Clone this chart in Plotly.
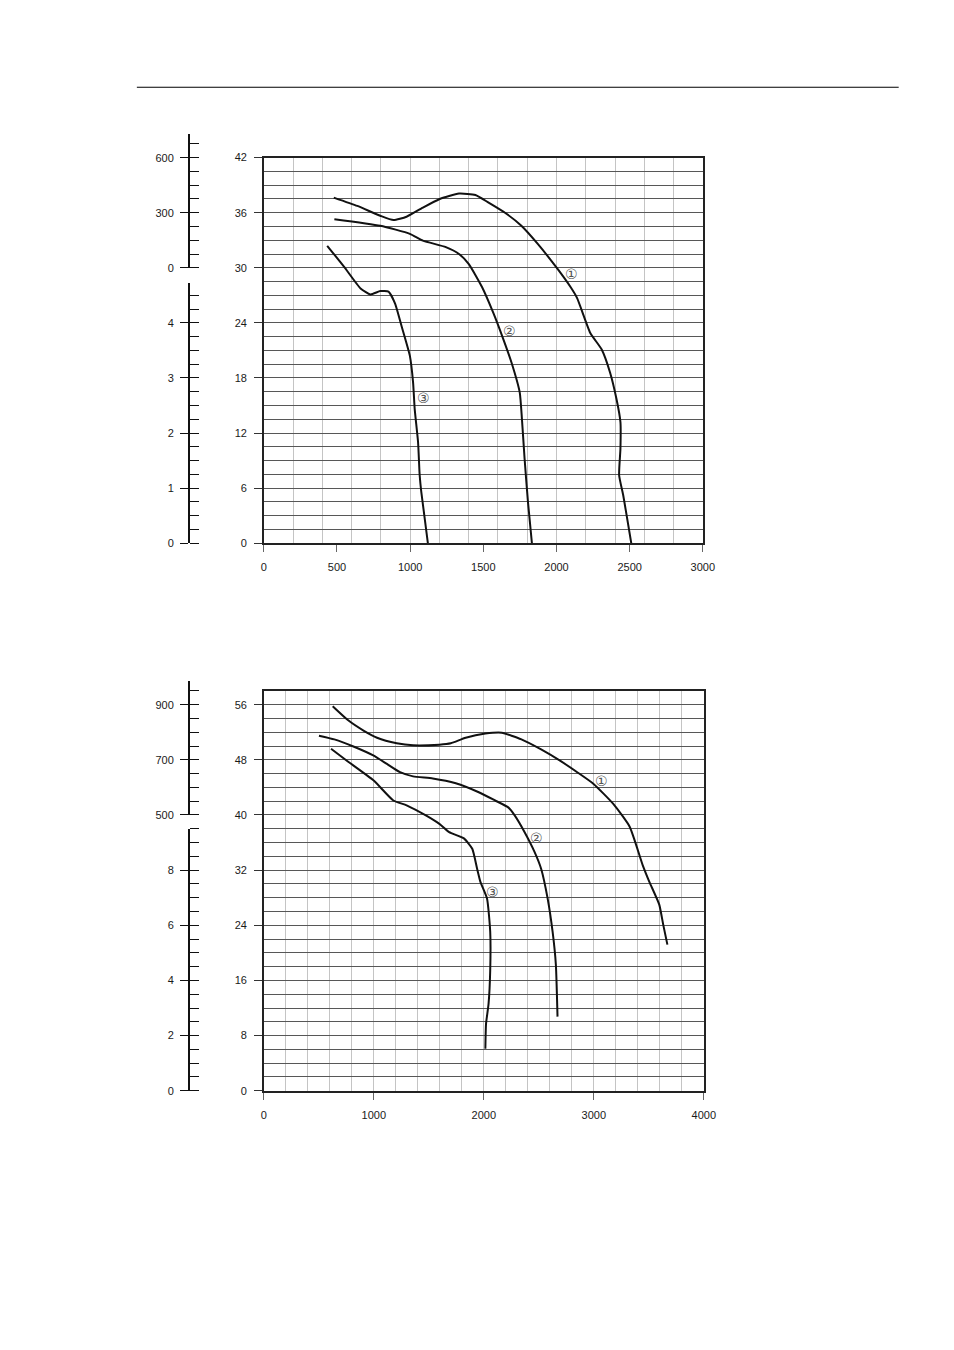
import plotly.graph_objects as go

W, H = 954, 1350

# ---------------- data: upper chart (A) ----------------
a_xticks = [0, 500, 1000, 1500, 2000, 2500, 3000]
a_yticks = [0, 6, 12, 18, 24, 30, 36, 42]
a_aux_top_ticks = [0, 300, 600]
a_aux_bot_ticks = [0, 1, 2, 3, 4]

a1_x = [478, 639, 796, 886, 975, 1087, 1199, 1334, 1446, 1536, 1648, 1760, 1872, 2006, 2096, 2141, 2231, 2309, 2366, 2410, 2437, 2437, 2428, 2455, 2511]
a1_y = [37.65, 36.74, 35.67, 35.2, 35.56, 36.56, 37.47, 38.08, 37.93, 37.1, 36.0, 34.58, 32.6, 29.9, 27.9, 26.7, 22.9, 21.1, 18.6, 15.7, 13.2, 10.3, 7.4, 5.3, 0.0]

a2_x = [482, 796, 998, 1087, 1244, 1334, 1401, 1491, 1569, 1637, 1693, 1749, 1764, 1782, 1805, 1832]
a2_y = [35.3, 34.58, 33.7, 32.96, 32.25, 31.5, 30.4, 27.9, 25.05, 22.2, 19.65, 16.4, 13.5, 9.2, 4.5, 0.0]

a3_x = [433, 549, 661, 728, 796, 852, 897, 942, 998, 1020, 1031, 1054, 1065, 1076, 1121]
a3_y = [32.4, 30.1, 27.75, 27.1, 27.46, 27.4, 26.1, 23.6, 20.4, 17.5, 14.6, 11.0, 7.4, 5.6, 0.0]

a_labels = ["①", "②", "③"]
a_label_x = [2100, 1681, 1090]
a_label_y = [29.3, 23.1, 15.8]

# ---------------- data: lower chart (B) ----------------
b_xticks = [0, 1000, 2000, 3000, 4000]
b_yticks = [0, 8, 16, 24, 32, 40, 48, 56]
b_aux_top_ticks = [500, 700, 900]
b_aux_bot_ticks = [0, 2, 4, 6, 8]

b1_x = [626, 761, 910, 1029, 1208, 1357, 1596, 1700, 1835, 2014, 2163, 2342, 2521, 2700, 2849, 2998, 3177, 3326, 3445, 3505, 3595, 3631, 3669]
b1_y = [55.76, 53.8, 52.2, 51.2, 50.4, 50.1, 50.2, 50.4, 51.2, 51.8, 51.93, 50.96, 49.5, 47.8, 46.2, 44.5, 41.6, 38.3, 32.7, 30.3, 27.0, 24.1, 21.2]

b2_x = [501, 641, 820, 999, 1119, 1238, 1357, 1536, 1745, 1954, 2103, 2222, 2282, 2371, 2461, 2521, 2580, 2625, 2655, 2670]
b2_y = [51.5, 50.96, 49.9, 48.6, 47.4, 46.2, 45.6, 45.3, 44.6, 43.3, 42.1, 41.1, 39.9, 37.5, 34.65, 32.2, 27.9, 23.1, 18.3, 10.75]

b3_x = [611, 761, 999, 1178, 1298, 1477, 1596, 1685, 1819, 1895, 1939, 1969, 2029, 2058, 2058, 2043, 2020, 2014]
b3_y = [49.6, 47.8, 45.0, 42.1, 41.4, 39.9, 38.7, 37.5, 36.6, 35.1, 32.2, 30.3, 27.9, 23.1, 17.4, 12.6, 9.7, 6.1]

b_labels = ["①", "②", "③"]
b_label_x = [3067, 2481, 2079]
b_label_y = [44.9, 36.7, 28.9]

# ---------------- layout geometry (pixels) ----------------
A_L, A_R, A_B, A_T = 265, 711, 542, 153
B_L, B_R, B_B, B_T = 265, 712, 1094.5, 691
A_YMAX, B_YMAX = 42, 58
AUX_X0, AUX_X1 = 190, 200


def px_x(p):
    return p / W


def px_y(p):
    return 1 - p / H


def a_main_to_paper(m):
    return px_y(A_B) + m / A_YMAX * (px_y(A_T) - px_y(A_B))


def b_main_to_paper(m):
    return px_y(B_B) + m / B_YMAX * (px_y(B_T) - px_y(B_B))


FONT = dict(family="Liberation Sans, Arial, sans-serif", size=11, color="#1a1a1a")
LINE = dict(color="#111", width=2)
HGRID = "#575757"
VGRID = "#c4c4c4"
FRAME = "#222"

fig = go.Figure()

for xs, ys in [(a1_x, a1_y), (a2_x, a2_y), (a3_x, a3_y)]:
    fig.add_trace(go.Scatter(x=xs, y=ys, mode="lines", line=dict(shape="spline", smoothing=0.5, **LINE),
                             xaxis="x", yaxis="y", hoverinfo="skip"))
for xs, ys in [(b1_x, b1_y), (b2_x, b2_y), (b3_x, b3_y)]:
    fig.add_trace(go.Scatter(x=xs, y=ys, mode="lines", line=dict(shape="spline", smoothing=0.5, **LINE),
                             xaxis="x2", yaxis="y2", hoverinfo="skip"))

# empty traces so auxiliary scale subplots exist
for ya in ["y3", "y4"]:
    fig.add_trace(go.Scatter(x=[], y=[], xaxis="x3", yaxis=ya, hoverinfo="skip"))
for ya in ["y5", "y6"]:
    fig.add_trace(go.Scatter(x=[], y=[], xaxis="x4", yaxis=ya, hoverinfo="skip"))


def main_x(domain, rng, ticks, minor_dtick, anchor):
    return dict(domain=domain, range=rng, anchor=anchor, tickmode="array", tickvals=ticks,
                ticks="outside", ticklen=7, tickcolor="#666", tickwidth=1,
                ticklabelstandoff=6,
                showgrid=False, zeroline=False, showline=True, mirror=True,
                linecolor=FRAME, linewidth=1.5, tickfont=FONT,
                minor=dict(dtick=minor_dtick, tick0=0, showgrid=True, gridcolor=VGRID, gridwidth=1,
                           ticks="inside", ticklen=0, tickcolor="rgba(0,0,0,0)"))


def main_y(domain, rng, ticks, minor_dtick, anchor):
    return dict(domain=domain, range=rng, anchor=anchor, tickmode="array", tickvals=ticks,
                ticks="outside", ticklen=8, tickcolor="#333", tickwidth=1,
                ticklabelstandoff=5,
                showgrid=True, gridcolor=HGRID, gridwidth=1, zeroline=False,
                showline=True, mirror=True, linecolor=FRAME, linewidth=1.5, tickfont=FONT,
                minor=dict(dtick=minor_dtick, tick0=0, showgrid=True, gridcolor=HGRID, gridwidth=1, ticks=""))


def aux_y(domain, rng, ticks, minor_dtick, tick0, anchor):
    return dict(domain=domain, range=rng, anchor=anchor, tickmode="array", tickvals=ticks,
                ticks="outside", ticklen=8, tickcolor="#111", tickwidth=1,
                ticklabelstandoff=4,
                showgrid=False, zeroline=False, showline=True, linecolor="#111", linewidth=2,
                tickfont=FONT,
                minor=dict(dtick=minor_dtick, tick0=tick0, ticks="inside", ticklen=9,
                           tickcolor="#111", tickwidth=1, showgrid=False))


a_top_rng = [0, 730]
a_bot_rng = [0, 4.73]
b_top_rng = [500, 985]
b_bot_rng = [0, 9.5]

fig.update_layout(
    width=W, height=H, margin=dict(l=0, r=0, t=0, b=0),
    paper_bgcolor="white", plot_bgcolor="white", showlegend=False,
    xaxis=main_x([px_x(A_L), px_x(A_R)], [0, 3000], a_xticks, 200, "y"),
    yaxis=main_y([px_y(A_B), px_y(A_T)], [0, A_YMAX], a_yticks, 1.5, "x"),
    xaxis2=main_x([px_x(B_L), px_x(B_R)], [0, 4000], b_xticks, 200, "y2"),
    yaxis2=main_y([px_y(B_B), px_y(B_T)], [0, B_YMAX], b_yticks, 2, "x2"),
    xaxis3=dict(domain=[px_x(AUX_X0), px_x(AUX_X1)], anchor="y3", visible=False, range=[0, 1]),
    xaxis4=dict(domain=[px_x(AUX_X0), px_x(AUX_X1)], anchor="y5", visible=False, range=[0, 1]),
    yaxis3=aux_y([a_main_to_paper(30), a_main_to_paper(30 + a_top_rng[1] / 50)], a_top_rng,
                 a_aux_top_ticks, 75, 0, "x3"),
    yaxis4=aux_y([a_main_to_paper(0), a_main_to_paper(a_bot_rng[1] * 6)], a_bot_rng,
                 a_aux_bot_ticks, 0.25, 0, "x3"),
    yaxis5=aux_y([b_main_to_paper(40), b_main_to_paper(40 + (b_top_rng[1] - 500) / 25)], b_top_rng,
                 b_aux_top_ticks, 50, 500, "x4"),
    yaxis6=aux_y([b_main_to_paper(0), b_main_to_paper(b_bot_rng[1] * 4)], b_bot_rng,
                 b_aux_bot_ticks, 0.5, 0, "x4"),
)

# header rule
fig.add_shape(type="line", xref="paper", yref="paper", x0=px_x(136), x1=px_x(910),
              y0=px_y(82), y1=px_y(82), line=dict(color="black", width=1.2))

LABEL_FONT = dict(family="DejaVu Sans, Noto Sans CJK SC, sans-serif", size=14, color="#555")
for t, x, y in zip(a_labels, a_label_x, a_label_y):
    fig.add_annotation(x=x, y=y, xref="x", yref="y", text=t, showarrow=False, font=LABEL_FONT,
                       xanchor="center", yanchor="middle")
for t, x, y in zip(b_labels, b_label_x, b_label_y):
    fig.add_annotation(x=x, y=y, xref="x2", yref="y2", text=t, showarrow=False, font=LABEL_FONT,
                       xanchor="center", yanchor="middle")

fig.write_html("out.html")
